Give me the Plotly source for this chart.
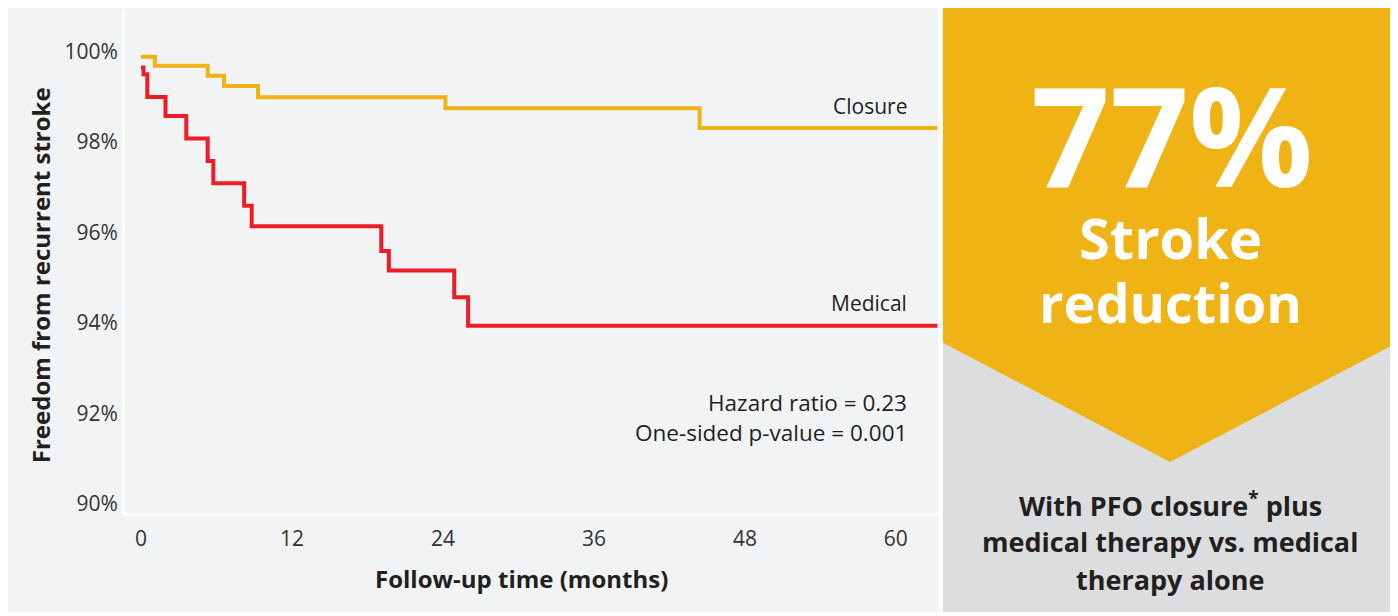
import plotly.graph_objects as go

# ---- data ----
closure_months = [0, 1.1, 5.3, 6.6, 9.3, 24.2, 44.4, 63.3]
closure_surv = [99.89, 99.69, 99.47, 99.24, 98.99, 98.75, 98.31, 98.31]

medical_months = [0, 0.2, 0.5, 1.95, 3.6, 5.3, 5.75, 8.2, 8.8, 19.1, 19.7, 24.9, 26.0, 63.3]
medical_surv = [99.65, 99.5, 99.0, 98.58, 98.08, 97.58, 97.09, 96.59, 96.14, 95.59, 95.16, 94.57, 93.94, 93.94]

x_ticks = [0, 12, 24, 36, 48, 60]
y_ticks = [90, 92, 94, 96, 98, 100]
y_tick_text = ["90%", "92%", "94%", "96%", "98%", "100%"]

# page has an 8px body margin; figure fills the rest of the 1398x616 window
OFF = 8
W, H = 1398 - OFF, 616 - OFF
YELLOW = "#EFB315"
RED = "#EE1C25"
PLOT_BG = "#F2F3F5"
PANEL_GRAY = "#DCDDDF"
TXT = "#231F20"
FONT = "Open Sans"


def px(x):
    return (x - OFF) / W


def py(y):
    return 1 - (y - OFF) / H


fig = go.Figure()
fig.add_trace(go.Scatter(x=closure_months, y=closure_surv, mode="lines",
                         line=dict(color=YELLOW, width=4, shape="hv"),
                         name="Closure", hoverinfo="skip"))
fig.add_trace(go.Scatter(x=medical_months, y=medical_surv, mode="lines",
                         line=dict(color=RED, width=4, shape="hv"),
                         name="Medical", hoverinfo="skip"))

shapes = [
    dict(type="rect", xref="paper", yref="paper", x0=0, x1=px(938), y0=0, y1=1,
         fillcolor=PLOT_BG, line_width=0, layer="below"),
    dict(type="rect", xref="paper", yref="paper", x0=px(943), x1=px(1397), y0=0, y1=1,
         fillcolor=PANEL_GRAY, line_width=0, layer="below"),
]
chev = [(943, 8), (1397, 8), (1397, 345), (1170, 465), (943, 345)]
path = "M " + " L ".join(f"{px(a):.5f},{py(b):.5f}" for a, b in chev) + " Z"
shapes.append(dict(type="path", xref="paper", yref="paper", path=path,
                   fillcolor=YELLOW, line_width=0, layer="below"))

annotations = [
    dict(text="Freedom from recurrent stroke", x=px(40), y=py(277), textangle=-90,
         font=dict(family=FONT, size=24, color=TXT, weight="bold")),
    dict(text="Follow-up time (months)", x=px(521), y=py(582),
         font=dict(family=FONT, size=24, color=TXT, weight="bold")),
    dict(text="Closure", x=px(909), y=py(107), xanchor="right",
         font=dict(family=FONT, size=21, color=TXT)),
    dict(text="Medical", x=px(909), y=py(305), xanchor="right",
         font=dict(family=FONT, size=21, color=TXT)),
    dict(text="Hazard ratio = 0.23", x=px(909), y=py(405), xanchor="right",
         font=dict(family=FONT, size=22.5, color=TXT)),
    dict(text="One-sided p-value = 0.001", x=px(909), y=py(435), xanchor="right",
         font=dict(family=FONT, size=22.5, color=TXT)),
    dict(text="77%", x=px(1172), y=py(134),
         font=dict(family=FONT, size=138, color="white", weight="bold")),
    dict(text="Stroke", x=px(1170), y=py(239),
         font=dict(family=FONT, size=56, color="white", weight="bold")),
    dict(text="reduction", x=px(1170), y=py(304),
         font=dict(family=FONT, size=54, color="white", weight="bold")),
    dict(text="With PFO closure<sup>*</sup> plus", x=px(1170), y=py(508),
         font=dict(family=FONT, size=27, color=TXT, weight="bold")),
    dict(text="medical therapy vs. medical", x=px(1170), y=py(545),
         font=dict(family=FONT, size=27, color=TXT, weight="bold")),
    dict(text="therapy alone", x=px(1170), y=py(583),
         font=dict(family=FONT, size=27, color=TXT, weight="bold")),
]
for a in annotations:
    a.setdefault("xref", "paper")
    a.setdefault("yref", "paper")
    a.setdefault("showarrow", False)
    a.setdefault("xanchor", "center")
    a.setdefault("yanchor", "middle")

x_range = [-1.27, 63.35]
y_range = [100 - (516 - 52) / 45.5, 100 + (52 - 10) / 45.5]

fig.update_layout(
    width=W, height=H,
    margin=dict(l=0, r=0, t=0, b=0),
    paper_bgcolor="white",
    plot_bgcolor=PLOT_BG,
    showlegend=False,
    shapes=shapes,
    annotations=annotations,
    xaxis=dict(domain=[px(125), px(938)], range=x_range, tickvals=x_ticks,
               showgrid=False, zeroline=False, showline=True, linecolor="white", linewidth=3,
               ticks="", tickfont=dict(family=FONT, size=21, color="#333333"),
               ticklabelstandoff=5, fixedrange=True),
    yaxis=dict(domain=[py(516), py(10)], range=y_range, tickvals=y_ticks, ticktext=y_tick_text,
               showgrid=False, zeroline=False, showline=True, linecolor="white", linewidth=3,
               ticks="", tickfont=dict(family=FONT, size=21, color="#333333"),
               ticklabelstandoff=0, fixedrange=True),
)

fig.write_html("out.html")
